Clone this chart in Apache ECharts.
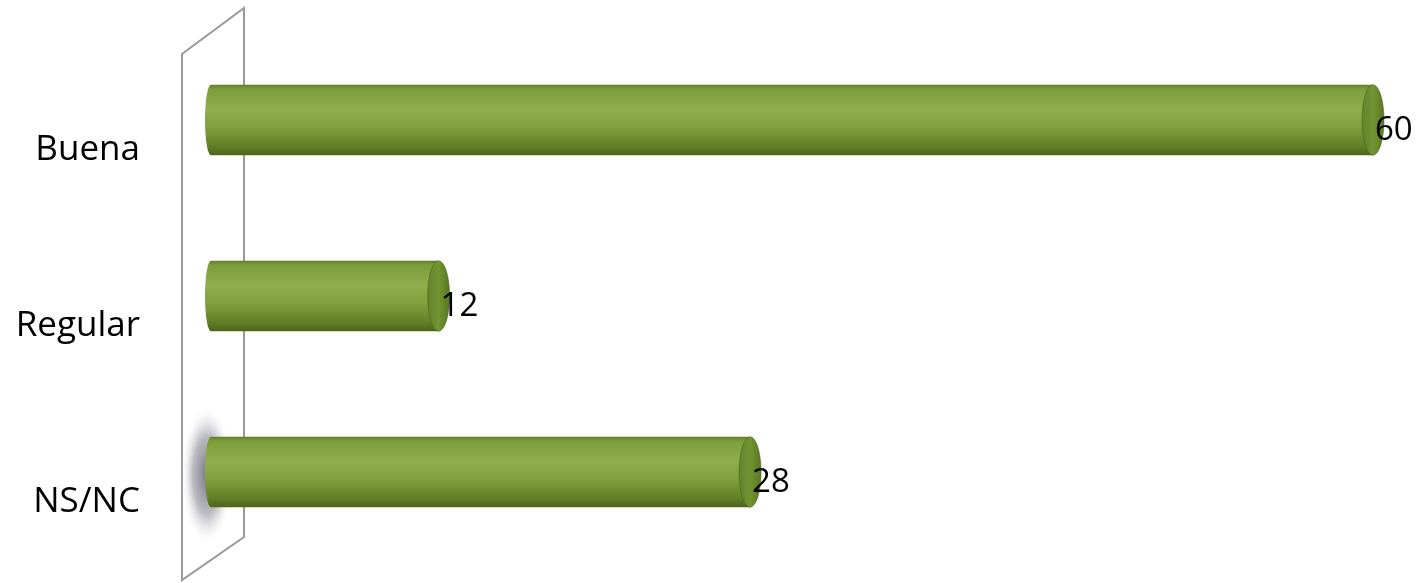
<!DOCTYPE html>
<html>
<head>
<meta charset="utf-8">
<script src="https://cdn.jsdelivr.net/npm/echarts@6/dist/echarts.min.js"></script>
<style>html,body{margin:0;padding:0;background:#fff;}#c{width:1416px;height:583px;}</style>
</head>
<body>
<div id="c"></div>
<script>
var categories = ['Buena', 'Regular', 'NS/NC'];
var values = [60, 12, 28];

var chart = echarts.init(document.getElementById('c'));
var FONT = '"Open Sans", "Noto Sans", sans-serif';

function bodyGrad() {
  return new echarts.graphic.LinearGradient(0, 0, 0, 1, [
    {offset: 0, color: '#607e29'},
    {offset: 0.06, color: '#7c9d3b'},
    {offset: 0.35, color: '#8eaf4b'},
    {offset: 0.6, color: '#80a03d'},
    {offset: 0.88, color: '#607f27'},
    {offset: 1, color: '#4b651b'}
  ]);
}
function capGrad() {
  return new echarts.graphic.LinearGradient(0, 0, 1, 0, [
    {offset: 0, color: '#62822a'},
    {offset: 0.5, color: '#739433'},
    {offset: 1, color: '#58761f'}
  ]);
}

function renderItem(params, api) {
  var idx = api.value(1);
  var v = api.value(0);
  var start = api.coord([0, idx]);
  var end = api.coord([v, idx]);
  var h = api.size([0, 1])[1] * 0.4;
  var cy = start[1];
  var rxL = 6, rxR = 11;
  var bx = start[0];
  return {
    type: 'group',
    children: [
      {type: 'ellipse', shape: {cx: bx + rxL, cy: cy, rx: rxL, ry: h / 2}, style: {fill: bodyGrad()}},
      {type: 'rect', shape: {x: bx + rxL, y: cy - h / 2, width: end[0] - bx - rxL, height: h}, style: {fill: bodyGrad()}},
      {type: 'ellipse', shape: {cx: end[0], cy: cy, rx: rxR, ry: h / 2}, style: {fill: capGrad(), stroke: 'rgba(70,95,25,0.5)', lineWidth: 1}},
      {type: 'text', x: end[0] + 2, y: cy + 11, style: {text: String(v), fill: '#000', font: '33px ' + FONT, align: 'left', verticalAlign: 'middle'}}
    ]
  };
}

var data = values.map(function (v, i) { return [v, i]; });

chart.setOption({
  animation: false,
  backgroundColor: '#fff',
  grid: {left: 205, right: 43, top: 32, bottom: 23, containLabel: false},
  xAxis: {type: 'value', min: 0, max: 60, show: false},
  yAxis: {
    type: 'category', data: categories, inverse: true,
    axisLine: {show: false}, axisTick: {show: false}, splitLine: {show: false},
    axisLabel: {
      margin: 65, color: '#000', fontFamily: FONT, verticalAlign: 'middle',
      formatter: function (v) { return '{g|}\n{t|' + v + '}'; },
      rich: {
        g: {height: 60, lineHeight: 60, fontSize: 10},
        t: {fontSize: 35, lineHeight: 44, fontFamily: FONT, color: '#000'}
      }
    }
  },
  graphic: [
    {type: 'polygon', z: 0, shape: {points: [[182, 54], [244, 8], [244, 537], [182, 580]]}, style: {fill: 'rgba(255,255,255,0)', stroke: '#9a9a9a', lineWidth: 2}},
    {type: 'circle', z: 0, x: 207, y: 475, scaleX: 0.42, scaleY: 1.15, shape: {cx: 0, cy: 0, r: 62},
      style: {fill: new echarts.graphic.RadialGradient(0.5, 0.5, 0.5, [
        {offset: 0, color: 'rgba(95,95,110,0.85)'},
        {offset: 0.55, color: 'rgba(120,120,135,0.5)'},
        {offset: 1, color: 'rgba(255,255,255,0)'}
      ])}}
  ],
  series: [{
    type: 'custom', z: 5,
    renderItem: renderItem,
    encode: {x: 0, y: 1},
    data: data
  }]
});
</script>
</body>
</html>
